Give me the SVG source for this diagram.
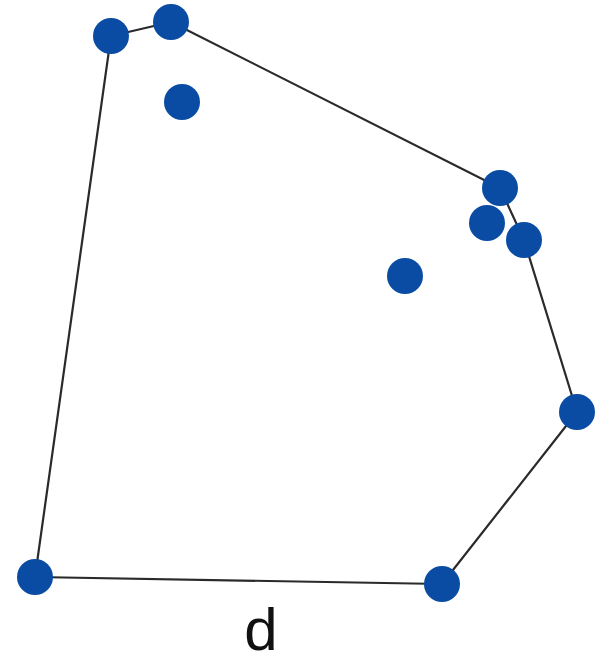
<svg xmlns="http://www.w3.org/2000/svg" width="599" height="664" viewBox="0 0 599 664">
<style>
.pt{fill:#0a4ca3}
.hull{fill:none;stroke:#2a2a2a;stroke-width:2.2;stroke-linejoin:round}
.lbl{font-family:"Liberation Sans",Arial,sans-serif;font-size:60px;fill:#111}
</style>
<rect width="599" height="664" fill="#ffffff"/>
<g id="connectors">
<polygon class="hull" points="35,577 111,36 171,22 500,188 524,240 577,412 442,584"/>
</g>
<g id="p1"><circle class="pt" cx="111" cy="36" r="18"/></g>
<g id="p2"><circle class="pt" cx="171" cy="22" r="18"/></g>
<g id="p3"><circle class="pt" cx="182" cy="102" r="18"/></g>
<g id="p4"><circle class="pt" cx="500" cy="188" r="18"/></g>
<g id="p5"><circle class="pt" cx="487" cy="223" r="18"/></g>
<g id="p6"><circle class="pt" cx="524" cy="240" r="18"/></g>
<g id="p7"><circle class="pt" cx="405" cy="276" r="18"/></g>
<g id="p8"><circle class="pt" cx="577" cy="412" r="18"/></g>
<g id="p9"><circle class="pt" cx="35" cy="577" r="18"/></g>
<g id="p10"><circle class="pt" cx="442" cy="584" r="18"/></g>
<g id="label"><text class="lbl" x="261" y="650" text-anchor="middle">d</text></g>
</svg>
